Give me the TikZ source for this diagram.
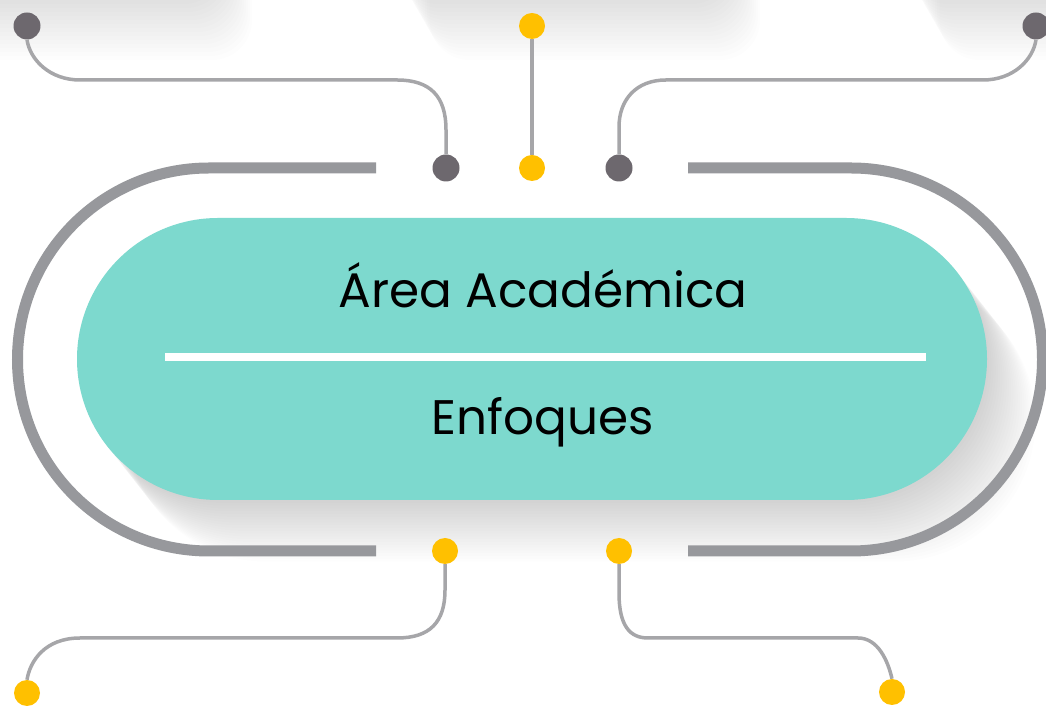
\documentclass[tikz,border=0pt]{standalone}
\usepackage{fontspec}
\setmainfont{Poppins}
\usepackage{tikz}
\usepackage{xcolor}
\usetikzlibrary{shapes,positioning,calc}

\definecolor{pillteal}{HTML}{7DD9CE}
\definecolor{ringgray}{HTML}{97989C}
\definecolor{wiregray}{HTML}{A6A6A9}
\definecolor{dotdark}{HTML}{6D686E}
\definecolor{dotyellow}{HTML}{FFC000}

\begin{document}
\begin{tikzpicture}[x=1pt, y=1pt,
  ring/.style={line width=11pt, ringgray},
  wire/.style={line width=3.5pt, wiregray},
  darkdot/.style={circle, fill=dotdark, inner sep=0pt, minimum size=27pt},
  yellowdot/.style={circle, fill=dotyellow, inner sep=0pt, minimum size=26pt},
  pill/.style={rounded rectangle, fill=pillteal, minimum width=910pt, minimum height=282pt, inner sep=0pt},
  title/.style={font=\fontsize{48.5}{58}\selectfont, text=black, anchor=base}]
\useasboundingbox (0,0) rectangle (1046,706);
\clip (0,0) rectangle (1046,706);
\fill[white] (0,0) rectangle (1046,706);

\foreach \i in {1,...,15} {
  \fill[black, opacity=0.008, rounded corners=40pt] (-100,760) rectangle (222+2*\i,706-4*\i);
  \fill[black, opacity=0.008, rounded corners=40pt] (395+2.3*\i,760) rectangle (730+2*\i,706-4*\i);
  \fill[black, opacity=0.008, rounded corners=40pt] (905+2.3*\i,760) rectangle (1200,706-4*\i);
}

\foreach \i in {1,...,22} {
  \fill[black, opacity=0.009, rounded corners=141pt] (77+2.2*\i,206-2.8*\i) rectangle (987+2.2*\i,488-2.8*\i);
}

\draw[ring] (376,538) -- (209,538) arc[start angle=90, end angle=270, radius=191.5] -- (376,155);
\draw[ring] (688,538) -- (851,538) arc[start angle=90, end angle=-90, radius=191.5] -- (688,155);

\node[pill] (pill) at (532,347) {};
\draw[white, line width=8pt] (165,349) -- (926,349);
\node[title] (area) at (543,398) {Área Académica};
\node[title] (enfoques) at (543,271) {Enfoques};

\node[darkdot] (tl) at (27,680) {};
\node[darkdot] (tinl) at (446,538) {};
\node[yellowdot] (tctop) at (532,680) {};
\node[yellowdot] (tcbot) at (532,538) {};
\node[darkdot] (tinr) at (619,538) {};
\node[darkdot] (tr) at (1036,680) {};
\node[yellowdot] (binl) at (445,155) {};
\node[yellowdot] (bl) at (27,13) {};
\node[yellowdot] (binr) at (619,155) {};
\node[yellowdot] (br) at (892,14) {};

\draw[wire] (tl.south) .. controls (30,646) and (50,626) .. (80,626) -- (397,626)
  .. controls (430,626) and (446,610) .. (446,576) -- (tinl.north);
\draw[wire] (tr.south) .. controls (1033,646) and (1013,626) .. (983,626) -- (666,626)
  .. controls (636,626) and (619,606) .. (619,579) -- (tinr.north);
\draw[wire] (tctop) -- (tcbot);
\draw[wire] (binl.south) -- (445,116) .. controls (445,84) and (430,68) .. (397,68) -- (80,68)
  .. controls (45,68) and (30,45) .. (bl.north);
\draw[wire] (binr.south) -- (619,113) .. controls (619,80) and (630,68) .. (648,68) -- (858,68)
  .. controls (878,68) and (888,45) .. (br.north);

\end{tikzpicture}
\end{document}
